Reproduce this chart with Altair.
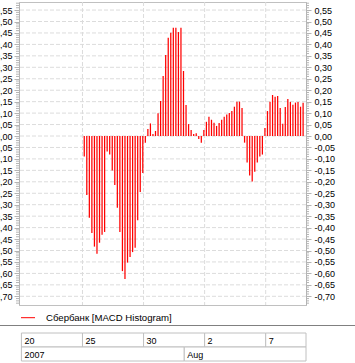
import altair as alt
import pandas as pd

# ---- data -------------------------------------------------------------
hist = [
    -0.090, -0.258, -0.357, -0.424, -0.483, -0.514, -0.466, -0.431, -0.419,
    -0.068, -0.081, -0.151, -0.214, -0.313, -0.419, -0.590, -0.624, -0.553,
    -0.528, -0.507, -0.488, -0.368, -0.245, -0.162, -0.029,
    0.031, 0.055, 0.009, 0.022, 0.099, 0.153, 0.262, 0.354, 0.429, 0.451,
    0.473, 0.473, 0.454, 0.473, 0.284, 0.135, 0.052, 0.026, 0.009, 0.012,
    -0.013, -0.029,
    0.026, 0.062, 0.084, 0.071, 0.058, 0.044, 0.057, 0.071, 0.084, 0.094,
    0.100, 0.109, 0.128, 0.150, 0.150, 0.122,
    -0.029, -0.116, -0.173, -0.199, -0.156, -0.116, -0.090, -0.081,
    0.035, 0.109, 0.150, 0.179, 0.171, 0.175, 0.122, 0.053, 0.127, 0.162,
    0.149, 0.136, 0.146, 0.149, 0.128, 0.145,
]
BARS_PER_DAY = 8
FIRST_DAY = 3          # trading-day index of 25 Jul (20 Jul = 0)

day_labels = ["20", "25", "30", "2", "7"]
day_pos = [0, 3, 6, 9, 12]
month_labels = ["2007", "Aug"]
month_pos = [0, 8]

major_ticks = [round(-0.70 + 0.05 * k, 2) for k in range(26)]
minor_ticks = [round(k / 100, 2) for k in range(-73, 59) if k % 5 != 0]

X_MIN, X_MAX = -0.118, 13.98
Y_MIN, Y_MAX = -0.738, 0.5852
W, H = 287, 303

FONT = "Liberation Sans"
GRID = "#dcdcdc"
AXC = "#b4b4b4"
RED = "#ff0000"

df = pd.DataFrame({
    "t": [FIRST_DAY + (i + 0.7) / BARS_PER_DAY for i in range(len(hist))],
    "v": hist,
    "base": [0.0] * len(hist),
})

xs = alt.Scale(domain=[X_MIN, X_MAX], nice=False, zero=False)
ys = alt.Scale(domain=[Y_MIN, Y_MAX], nice=False, zero=False)

label_expr = ("(datum.value < 0 ? '-' : '') + "
              "replace(format(abs(datum.value), '.2f'), '.', ',')")

def yaxis(orient):
    return alt.Axis(orient=orient, values=major_ticks, labelExpr=label_expr,
                    title=None, grid=False, domain=True, domainColor=AXC,
                    ticks=True, tickColor=AXC, tickSize=5,
                    labelFont=FONT, labelFontSize=9, labelColor="black",
                    labelPadding=2 if orient == "left" else 3,
                    labelOverlap=False, labelFlush=False)

# horizontal grid (also carries right axis)
hgrid = alt.Chart(pd.DataFrame({"y": major_ticks})).mark_rule(
    color=GRID, strokeDash=[4, 2], strokeWidth=1
).encode(y=alt.Y("y:Q", scale=ys, axis=yaxis("right")))

# vertical grid
vgrid = alt.Chart(pd.DataFrame({"d": day_pos[1:]})).mark_rule(
    color=GRID, strokeDash=[4, 2], strokeWidth=1
).encode(x=alt.X("d:Q", scale=xs, axis=None))

# minor ticks
minor_df = pd.DataFrame({"y": minor_ticks})
minor_left = alt.Chart(minor_df).mark_rule(color=AXC, strokeWidth=1).encode(
    y=alt.Y("y:Q", scale=ys, axis=None), x=alt.value(-3), x2=alt.value(0))
minor_right = alt.Chart(minor_df).mark_rule(color=AXC, strokeWidth=1).encode(
    y=alt.Y("y:Q", scale=ys, axis=None), x=alt.value(W), x2=alt.value(W + 3))

# histogram bars (carry left axis)
bars = alt.Chart(df).mark_rule(color=RED, strokeWidth=1.25).encode(
    x=alt.X("t:Q", scale=xs, axis=None),
    y=alt.Y("v:Q", scale=ys, axis=yaxis("left")),
    y2="base:Q",
)

# legend
leg_line = alt.Chart(pd.DataFrame({"a": [0]})).mark_rule(color=RED, strokeWidth=1).encode(
    x=alt.value(2), x2=alt.value(16), y=alt.value(315.7))
leg_text = alt.Chart(pd.DataFrame({"s": ["Сбербанк [MACD Histogram]"]})).mark_text(
    align="left", baseline="middle", font=FONT, fontSize=9.6, color="black"
).encode(x=alt.value(27), y=alt.value(315.7), text="s:N")

# separator
sep = alt.Chart(pd.DataFrame({"a": [0]})).mark_rule(color="#808080", strokeWidth=1).encode(
    x=alt.value(-19), x2=alt.value(W + 49), y=alt.value(323.5))

# bottom date axis box
row1 = pd.DataFrame({"start": day_pos, "end": day_pos[1:] + [X_MAX], "label": day_labels})
row2 = pd.DataFrame({"start": month_pos, "end": month_pos[1:] + [X_MAX], "label": month_labels})

def cells(d, y0, y1):
    r = alt.Chart(d).mark_rect(fill="white", stroke="#c0c0c0", strokeWidth=1).encode(
        x=alt.X("start:Q", scale=xs, axis=None), x2="end:Q",
        y=alt.value(y0), y2=alt.value(y1))
    t = alt.Chart(d).mark_text(align="left", baseline="middle", dx=3,
                               font=FONT, fontSize=9, color="black").encode(
        x=alt.X("start:Q", scale=xs, axis=None),
        y=alt.value((y0 + y1) / 2 + 0.5), text="label:N")
    return r + t

chart = alt.layer(
    hgrid, vgrid, minor_left, minor_right, bars,
    leg_line, leg_text, sep,
    cells(row1, 331, 345), cells(row2, 345, 359),
).resolve_scale(y="shared", x="shared").resolve_axis(y="independent").properties(
    width=W, height=H,
    autosize=alt.AutoSizeParams(type="none"),
    padding={"left": 19, "top": 2, "right": 49, "bottom": 58},
    background="white",
).configure_view(stroke="#c0c0c0", strokeWidth=1)

chart.save("out.html", embed_options={"renderer": "svg", "actions": False})
